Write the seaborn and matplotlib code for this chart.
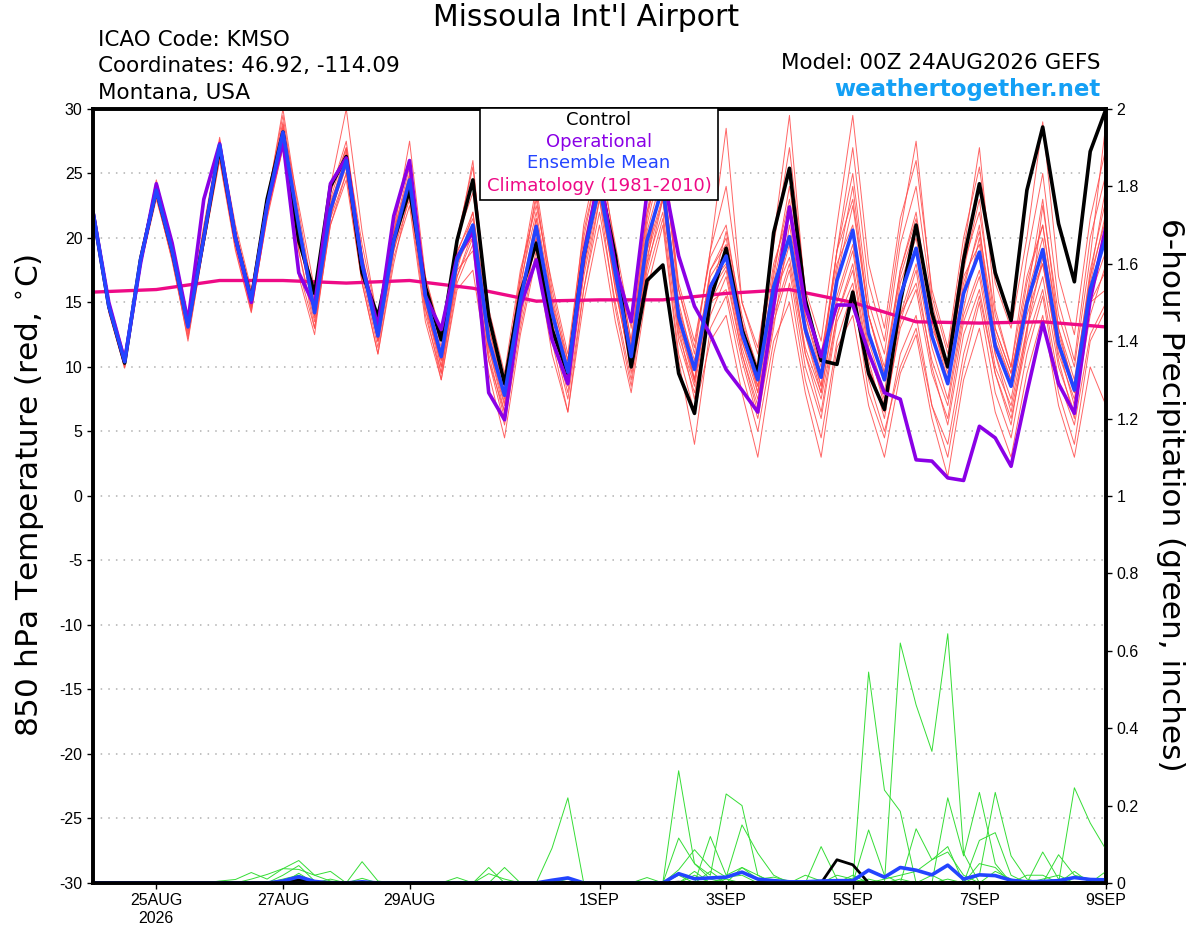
import numpy as np
import pandas as pd
import matplotlib
matplotlib.use('Agg')
import matplotlib.pyplot as plt
from matplotlib.patches import Rectangle
from matplotlib.ticker import FuncFormatter
import seaborn as sns

# 6-hourly forecast steps, 00Z 24AUG2026 -> 00Z 9SEP2026
times = pd.date_range('2026-08-24 00:00', '2026-09-09 00:00', freq='6h')
clim_times = pd.date_range('2026-08-24', '2026-09-09', freq='D')
hours = list(range(0, 385, 6))

# 850 hPa temperature (C), one row per day: 00Z, 06Z, 12Z, 18Z
control = [
    22.0, 14.7, 10.3, 18.3, 23.7, 19.0, 13.3, 20.0, 27.0, 20.0, 15.2, 23.0,
    28.2, 19.8, 15.7, 24.0, 26.3, 17.3, 13.9, 19.8, 23.7, 16.2, 12.1, 19.8,
    24.5, 13.9, 8.7, 15.7, 19.6, 12.9, 9.5, 18.6, 24.5, 18.6, 10.0, 16.7,
    17.9, 9.5, 6.4, 15.2, 19.2, 12.9, 9.5, 20.4, 25.4, 15.2, 10.5, 10.2,
    15.8, 9.5, 6.7, 15.0, 21.0, 14.2, 10.0, 18.3, 24.2, 17.3, 13.6, 23.7,
    28.6, 21.1, 16.6, 26.7, 30.0]
operational = [
    22.0, 15.0, 10.5, 18.0, 24.2, 19.6, 13.5, 23.0, 27.3, 20.0, 15.0, 22.5,
    27.5, 17.3, 14.7, 24.2, 26.2, 18.0, 13.1, 21.7, 26.0, 15.5, 12.9, 18.5,
    20.5, 8.0, 5.9, 14.7, 18.3, 12.1, 8.7, 18.6, 25.0, 17.8, 13.5, 23.5,
    25.0, 18.6, 14.7, 12.5, 9.8, 8.2, 6.5, 14.7, 22.4, 14.7, 10.8, 14.8,
    14.8, 11.1, 8.0, 7.5, 2.8, 2.7, 1.4, 1.2, 5.4, 4.5, 2.3, 8.0,
    13.4, 8.7, 6.4, 15.2, 20.9]
ens_mean = [
    22.0, 14.7, 10.4, 18.3, 23.7, 19.0, 13.1, 20.0, 27.2, 20.0, 15.2, 22.5,
    28.2, 20.9, 14.2, 22.2, 26.0, 18.0, 12.4, 19.8, 24.5, 15.5, 10.8, 18.3,
    21.0, 12.1, 7.8, 15.2, 20.9, 14.2, 9.6, 18.6, 24.0, 17.3, 10.8, 19.8,
    24.0, 13.9, 9.8, 16.2, 18.6, 12.6, 9.0, 16.2, 20.1, 12.9, 9.2, 16.7,
    20.6, 12.6, 9.0, 15.5, 19.2, 12.4, 8.7, 15.7, 18.9, 11.6, 8.5, 14.9,
    19.1, 11.8, 8.2, 16.0, 20.1]
climatology = [15.8, 16.0, 16.7, 16.7, 16.5, 16.7, 16.1, 15.1, 15.2,
               15.2, 15.7, 16.0, 15.0, 13.5, 13.4, 13.5, 13.1]

members = {
    'm01': [22.0, 14.5, 10.2, 18.0, 24.0, 19.2, 12.8, 20.5, 27.5, 20.3, 14.8, 23.0,
            29.5, 21.5, 14.0, 23.5, 27.5, 18.5, 12.0, 21.0, 26.0, 16.5, 11.5, 20.0,
            25.5, 14.0, 8.5, 17.0, 23.0, 15.5, 10.0, 21.0, 27.0, 19.0, 12.0, 22.0,
            28.0, 16.0, 11.0, 19.0, 24.0, 15.0, 11.0, 20.0, 29.5, 15.5, 10.5, 19.0,
            25.0, 15.0, 11.0, 19.5, 24.0, 15.0, 10.0, 18.0, 22.0, 14.0, 10.0, 18.5,
            25.0, 15.0, 10.5, 20.0, 25.0],
    'm02': [21.5, 14.3, 10.0, 17.8, 23.0, 18.5, 12.0, 19.5, 26.5, 19.5, 14.5, 21.5,
            27.0, 19.0, 13.0, 21.0, 24.5, 16.5, 11.0, 18.5, 22.5, 13.5, 9.0, 16.0,
            17.5, 9.5, 4.5, 12.5, 18.5, 11.0, 6.5, 15.0, 21.0, 13.5, 8.0, 16.0,
            21.0, 10.5, 4.0, 13.0, 15.5, 9.5, 5.0, 12.0, 15.0, 8.0, 3.0, 11.5,
            14.0, 7.0, 3.0, 9.5, 12.5, 6.0, 1.5, 9.0, 13.0, 6.5, 3.0, 9.5,
            14.0, 7.0, 3.0, 10.0, 7.0],
    'm03': [22.2, 15.0, 10.6, 18.6, 24.2, 19.5, 13.5, 20.3, 27.2, 19.8, 15.0, 22.8,
            30.0, 22.0, 15.0, 24.0, 30.0, 20.5, 13.5, 20.5, 27.5, 17.0, 12.0, 19.5,
            26.0, 13.0, 8.5, 17.0, 24.0, 16.0, 10.5, 20.0, 26.0, 18.0, 11.5, 21.0,
            26.5, 16.5, 12.0, 18.5, 21.0, 13.5, 8.0, 17.5, 23.0, 14.0, 9.5, 19.0,
            27.0, 16.5, 12.0, 20.5, 27.5, 15.5, 11.0, 19.0, 27.0, 14.5, 10.0, 17.0,
            21.0, 12.5, 8.5, 17.5, 23.0],
    'm04': [21.8, 14.8, 10.5, 18.2, 23.5, 18.8, 13.0, 19.8, 26.8, 19.5, 15.0, 22.0,
            27.5, 17.5, 13.0, 21.5, 25.0, 17.0, 11.5, 19.0, 23.0, 14.0, 9.5, 17.5,
            19.0, 10.5, 6.5, 13.5, 20.0, 13.0, 8.0, 17.0, 23.0, 16.5, 9.5, 18.0,
            22.0, 12.0, 8.0, 14.0, 17.0, 11.0, 7.0, 14.0, 18.0, 11.0, 7.5, 14.0,
            17.5, 10.0, 6.5, 13.0, 16.0, 9.5, 6.0, 13.5, 17.0, 10.0, 7.0, 13.0,
            17.0, 10.0, 6.5, 14.0, 18.0],
    'm05': [22.0, 14.6, 10.3, 18.4, 23.8, 19.0, 13.2, 20.2, 27.0, 20.2, 15.5, 22.6,
            28.0, 21.0, 14.5, 22.0, 26.5, 18.0, 12.5, 20.5, 25.0, 16.0, 11.0, 18.5,
            20.0, 11.5, 7.0, 14.5, 21.5, 14.5, 10.0, 19.0, 25.5, 18.0, 11.5, 20.5,
            25.0, 14.5, 10.5, 17.0, 19.0, 12.0, 8.5, 15.5, 20.0, 12.5, 8.0, 15.0,
            19.0, 11.0, 7.5, 14.0, 18.0, 11.5, 7.5, 14.5, 20.0, 12.5, 9.0, 16.5,
            21.0, 13.0, 9.0, 17.0, 21.5],
    'm06': [22.1, 14.9, 10.2, 18.1, 23.6, 18.6, 12.6, 19.6, 26.5, 19.8, 14.6, 22.2,
            28.5, 20.0, 14.0, 22.8, 26.0, 17.5, 12.0, 19.5, 24.0, 15.0, 10.0, 18.0,
            20.5, 12.5, 8.0, 15.5, 19.5, 12.0, 6.5, 16.0, 22.0, 15.0, 9.0, 17.5,
            23.0, 13.0, 7.5, 15.0, 16.0, 10.5, 6.0, 13.0, 21.0, 14.0, 10.0, 19.0,
            23.0, 14.0, 9.5, 17.0, 21.0, 14.0, 10.0, 17.0, 19.5, 12.0, 9.0, 15.0,
            18.0, 11.0, 7.5, 15.0, 16.0],
    'm07': [22.0, 14.4, 10.6, 18.5, 24.5, 19.6, 13.6, 20.6, 27.8, 20.6, 15.8, 23.2,
            29.0, 21.0, 15.5, 23.5, 27.0, 19.5, 13.5, 20.5, 25.5, 17.0, 12.5, 20.0,
            23.5, 14.5, 9.5, 17.5, 22.5, 16.5, 11.0, 20.5, 26.0, 19.5, 13.0, 22.0,
            26.0, 16.0, 11.5, 19.0, 28.5, 15.0, 11.5, 19.5, 27.0, 16.0, 12.0, 21.0,
            29.5, 18.0, 13.0, 21.5, 26.0, 16.0, 11.5, 20.0, 25.5, 16.5, 13.0, 20.0,
            29.0, 17.0, 12.5, 21.5, 27.0],
    'm08': [21.9, 14.7, 10.0, 18.0, 23.2, 18.3, 12.4, 19.4, 26.0, 19.0, 14.2, 21.8,
            27.0, 19.0, 13.5, 21.0, 25.0, 16.5, 11.0, 18.0, 23.5, 14.5, 9.0, 16.5,
            19.5, 10.5, 5.5, 13.0, 19.0, 12.5, 7.5, 16.0, 23.0, 14.5, 8.5, 17.0,
            21.5, 11.0, 6.5, 12.0, 14.0, 8.0, 3.0, 11.0, 16.5, 9.0, 4.5, 12.0,
            16.0, 8.0, 4.5, 11.0, 14.0, 7.0, 3.0, 10.0, 15.0, 8.0, 4.5, 11.0,
            15.5, 8.0, 4.0, 12.0, 14.5],
    'm09': [22.3, 15.1, 10.8, 18.8, 24.0, 19.3, 13.4, 20.4, 27.5, 20.4, 15.4, 22.4,
            28.8, 22.5, 16.0, 23.0, 27.0, 18.5, 12.5, 20.0, 24.0, 16.0, 11.0, 19.0,
            21.5, 13.0, 8.0, 16.5, 22.0, 15.0, 10.5, 19.5, 25.0, 18.5, 12.0, 21.5,
            27.5, 15.0, 10.0, 17.5, 20.0, 13.5, 10.0, 18.0, 22.0, 12.5, 8.5, 17.0,
            22.5, 14.0, 10.0, 17.5, 22.0, 13.5, 9.5, 17.5, 23.0, 13.0, 9.5, 15.5,
            20.0, 12.0, 8.0, 16.5, 22.0],
    'm10': [21.7, 14.5, 10.1, 18.0, 23.4, 18.7, 12.9, 19.8, 26.7, 19.7, 14.7, 22.0,
            28.3, 20.5, 14.3, 22.0, 25.5, 17.5, 12.0, 19.5, 24.5, 15.5, 10.0, 17.0,
            20.0, 11.5, 6.5, 14.0, 21.0, 13.5, 8.5, 18.0, 24.0, 16.0, 10.0, 19.0,
            24.5, 13.5, 9.0, 16.5, 18.0, 11.5, 7.5, 15.0, 19.5, 11.0, 6.5, 14.0,
            18.0, 10.5, 6.0, 13.5, 17.5, 10.0, 5.5, 12.5, 16.0, 9.5, 5.5, 13.0,
            18.5, 10.5, 6.0, 15.5, 19.0],
    'm11': [22.0, 15.2, 10.9, 18.6, 24.3, 19.8, 13.8, 21.0, 27.6, 21.0, 16.0, 23.0,
            27.8, 17.0, 12.5, 21.5, 26.5, 18.5, 13.0, 20.0, 23.5, 14.5, 10.5, 17.5,
            22.0, 13.5, 9.0, 16.0, 23.5, 15.0, 9.0, 17.5, 25.0, 17.0, 11.0, 18.0,
            25.5, 14.0, 9.0, 15.5, 20.5, 14.0, 9.5, 17.0, 24.0, 15.0, 11.0, 18.0,
            21.0, 12.0, 8.0, 16.5, 20.0, 13.0, 10.0, 16.0, 21.0, 11.0, 6.5, 12.5,
            22.5, 14.0, 10.0, 18.5, 29.0],
    'm12': [21.6, 14.2, 9.9, 17.9, 23.3, 18.2, 12.2, 19.4, 26.2, 19.2, 14.3, 21.6,
            28.0, 20.0, 14.0, 22.5, 26.0, 18.0, 12.0, 19.0, 24.0, 15.0, 9.5, 17.0,
            20.5, 11.0, 6.0, 14.0, 20.0, 13.0, 9.0, 17.5, 23.5, 16.0, 10.0, 18.5,
            23.0, 12.5, 8.5, 15.0, 17.5, 11.0, 6.5, 13.5, 17.5, 10.0, 6.0, 13.5,
            16.5, 9.0, 5.0, 10.0, 13.0, 7.0, 4.0, 11.0, 15.5, 9.5, 6.0, 12.0,
            16.0, 9.0, 5.5, 12.5, 15.0],
    'm13': [22.1, 14.8, 10.4, 18.4, 23.9, 19.1, 13.0, 20.1, 27.1, 20.1, 15.1, 22.6,
            28.6, 21.2, 14.6, 22.4, 26.8, 18.8, 12.8, 20.2, 24.8, 15.8, 10.5, 18.8,
            22.0, 12.5, 7.5, 15.5, 21.5, 14.0, 9.0, 18.5, 24.5, 17.0, 10.5, 19.5,
            24.5, 14.5, 9.0, 17.5, 19.5, 13.0, 8.5, 16.5, 22.5, 13.5, 8.5, 17.5,
            24.0, 14.0, 9.5, 17.5, 21.5, 13.5, 9.0, 16.5, 20.5, 13.0, 9.5, 15.5,
            23.0, 13.0, 8.0, 17.0, 24.0],
    'm14': [21.9, 14.6, 10.3, 18.1, 23.6, 18.9, 13.1, 19.9, 26.9, 19.9, 15.2, 22.4,
            28.1, 20.4, 13.8, 21.8, 25.8, 17.6, 12.2, 19.6, 24.2, 15.2, 10.6, 18.0,
            20.8, 11.8, 7.2, 14.8, 20.5, 13.8, 9.2, 18.2, 23.8, 16.8, 10.2, 19.0,
            23.2, 13.2, 8.8, 15.8, 17.8, 12.0, 8.0, 15.5, 18.5, 11.5, 8.0, 15.5,
            19.5, 11.5, 7.0, 14.0, 16.5, 10.5, 7.0, 14.0, 17.5, 11.0, 7.5, 14.0,
            18.0, 11.5, 7.0, 15.0, 17.5],
}

# 6-hour precipitation (inches), keyed by forecast hour; unlisted hours read as 0
precip_members = {
    'p01': {48: .005, 54: .009, 60: .027, 66: .01, 72: .037, 78: .058, 84: .02, 90: .005,
            150: .024, 156: .01, 174: .09, 180: .22, 222: .29, 228: .05, 234: .01,
            294: .545, 300: .24, 306: .185, 336: .02, 342: .234, 348: .07, 354: .01},
    'p02': {72: .02, 78: .045, 84: .005, 102: .055, 108: .005, 222: .116, 228: .05,
            234: .02, 240: .23, 246: .2, 252: .02, 306: .62, 312: .46, 318: .34,
            324: .644, 330: .077, 372: .03},
    'p03': {60: .01, 66: .022, 72: .037, 78: .035, 84: .02, 90: .03, 102: .012,
            138: .014, 156: .04, 222: .034, 228: .086, 234: .04, 240: .015, 246: .15,
            252: .077, 258: .02, 276: .094, 282: .01, 294: .137, 300: .02, 312: .14,
            318: .06, 324: .094, 336: .11, 342: .13, 348: .02, 360: .08, 366: .01},
    'p04': {78: .025, 90: .01, 150: .04, 210: .014, 234: .12, 240: .02, 246: .04,
            252: .02, 270: .02, 276: .005, 324: .22, 330: .07, 336: .234, 342: .05,
            366: .073, 372: .02, 378: .01},
    'p05': {78: .015, 228: .03, 240: .015, 246: .02, 288: .02, 300: .01, 306: .02,
            312: .03, 318: .06, 324: .08, 330: .02, 372: .246, 378: .155, 384: .086},
    'p06': {72: .01, 78: .02, 222: .02, 234: .03, 246: .04, 252: .01, 258: .015,
            264: .005, 294: .01, 324: .01, 342: .03, 348: .01, 360: .01, 366: .02, 384: .03},
    'p07': {78: .01, 180: .01, 228: .02, 240: .01, 282: .02, 288: .01, 306: .01,
            318: .02, 336: .05, 342: .04, 354: .02, 360: .02, 384: .01},
}
precip_mean = {72: .005, 78: .016, 84: .004, 102: .003, 174: .007, 180: .013,
               222: .024, 228: .011, 234: .013, 240: .015, 246: .028, 252: .010,
               258: .006, 264: .003, 270: .003, 276: .005, 282: .006, 288: .006,
               294: .033, 300: .015, 306: .040, 312: .033, 318: .021, 324: .046,
               330: .010, 336: .021, 342: .019, 348: .007, 354: .003, 360: .004,
               366: .006, 372: .014, 378: .009, 384: .008}
precip_control = {72: .002, 78: .008, 84: .002, 222: .002, 282: .060, 288: .047}

tick_dates = ['2026-08-25', '2026-08-27', '2026-08-29', '2026-09-01',
              '2026-09-03', '2026-09-05', '2026-09-07', '2026-09-09']
tick_labels = ['25AUG\n2026', '27AUG', '29AUG', '1SEP', '3SEP', '5SEP', '7SEP', '9SEP']

# long-form tables
temp_df = pd.DataFrame(members, index=times).rename_axis('time').reset_index()
temp_df = temp_df.melt(id_vars='time', var_name='member', value_name='temp')
main_df = pd.DataFrame({'time': times, 'control': control,
                        'operational': operational, 'mean': ens_mean})
clim_df = pd.DataFrame({'time': clim_times, 'temp': climatology})


def precip_series(d):
    return pd.Series(d, dtype=float).reindex(hours, fill_value=0.0).values


pcp_df = pd.DataFrame({k: precip_series(v) for k, v in precip_members.items()}, index=times)
pcp_df = pcp_df.rename_axis('time').reset_index().melt(id_vars='time', var_name='member',
                                                       value_name='pcp')
pcp_main = pd.DataFrame({'time': times, 'mean': precip_series(precip_mean),
                         'control': precip_series(precip_control)})

sns.set_style('white')
plt.rcParams['font.family'] = ['Liberation Sans', 'DejaVu Sans']
plt.rcParams['axes.unicode_minus'] = False
plt.rcParams['text.color'] = 'black'
TXT = 'DejaVu Sans'

fig = plt.figure(figsize=(12, 9.27), dpi=100)
ax = fig.add_axes([0.0775, 0.0475, 0.8442, 0.8350])

RED = '#ff4a4a'
sns.lineplot(data=temp_df, x='time', y='temp', units='member', estimator=None,
             color=RED, lw=0.7, alpha=0.85, legend=False, ax=ax)
sns.lineplot(data=clim_df, x='time', y='temp', color='#ee0a86', lw=2.4, ax=ax)
sns.lineplot(data=main_df, x='time', y='control', color='black', lw=2.6, ax=ax)
sns.lineplot(data=main_df, x='time', y='operational', color='#8a00e6', lw=2.6, ax=ax)
sns.lineplot(data=main_df, x='time', y='mean', color='#2344ff', lw=2.6, ax=ax)

ax.set_xlim(times[0], times[-1])
ax.set_ylim(-30, 30)
ax.set_yticks(range(-30, 31, 5))
ax.set_xticks(pd.to_datetime(tick_dates))
ax.set_xticklabels(tick_labels)
ax.set_xlabel('')
ax.set_ylabel('')
ax.yaxis.grid(True, color='#b0b0b0', linestyle=(0, (1, 4)), lw=1.1)
ax.xaxis.grid(False)
ax.tick_params(axis='both', direction='out', length=4, width=1, labelsize=11.5,
               colors='black', left=True, bottom=True)

ax2 = ax.twinx()
sns.lineplot(data=pcp_df, x='time', y='pcp', units='member', estimator=None,
             color='#35dd35', lw=0.7, legend=False, ax=ax2)
sns.lineplot(data=pcp_main, x='time', y='control', color='black', lw=2.0, ax=ax2)
sns.lineplot(data=pcp_main, x='time', y='mean', color='#2344ff', lw=2.6, ax=ax2)
ax2.set_ylim(0, 2)
ax2.set_yticks(np.arange(0, 2.01, 0.2))
ax2.yaxis.set_major_formatter(FuncFormatter(lambda v, p: '%g' % round(v, 1)))
ax2.set_ylabel('')
ax2.set_xlabel('')
ax2.tick_params(axis='y', direction='out', length=4, width=1, labelsize=11.5,
                colors='black', right=True)
ax2.set_xlim(times[0], times[-1])

for a in (ax, ax2):
    for s in a.spines.values():
        s.set_linewidth(2.6)
        s.set_color('black')

# header texts
fig.text(0.488, 0.9806, "Missoula Int'l Airport", ha='center', va='center',
         fontsize=21.5, family=TXT)
fig.text(0.0817, 0.9569, 'ICAO Code: KMSO', ha='left', va='center', fontsize=15.5, family=TXT)
fig.text(0.0817, 0.9288, 'Coordinates: 46.92, -114.09', ha='left', va='center',
         fontsize=15.5, family=TXT)
fig.text(0.0817, 0.8997, 'Montana, USA', ha='left', va='center', fontsize=15.5, family=TXT)
fig.text(0.9167, 0.932, 'Model: 00Z 24AUG2026 GEFS', ha='right', va='center',
         fontsize=15.5, family=TXT)
fig.text(0.9167, 0.903, 'weathertogether.net', ha='right', va='center', fontsize=16.5,
         fontweight='bold', color='#14a0f5', family=TXT)

# axis titles
fig.text(0.025, 0.466, '850 hPa Temperature (red, $^{\\circ}$C)', rotation=90,
         ha='center', va='center', fontsize=22.5, family=TXT)
fig.text(0.975, 0.466, '6-hour Precipitation (green, inches)', rotation=270,
         ha='center', va='center', fontsize=22.5, family=TXT)

# legend box
fig.add_artist(Rectangle((0.400, 0.7843), 0.198, 0.0992, transform=fig.transFigure,
                         facecolor='white', edgecolor='black', lw=1.2, zorder=5))
legend_items = [('Control', 'black', 0.8706), ('Operational', '#8a00e6', 0.8468),
                ('Ensemble Mean', '#2344ff', 0.8242),
                ('Climatology (1981-2010)', '#ee0a86', 0.7994)]
for txt, col, yy in legend_items:
    fig.text(0.4992, yy, txt, color=col, ha='center', va='center', fontsize=13,
             zorder=6, family=TXT)

fig.savefig('out.png', dpi=100)
